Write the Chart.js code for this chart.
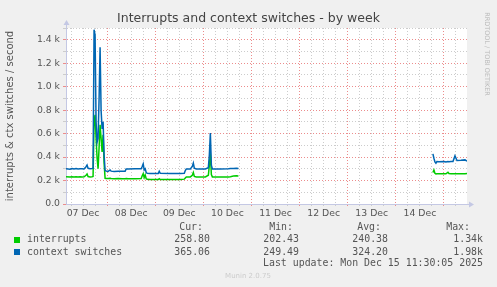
<!DOCTYPE html>
<html><head><meta charset="utf-8">
<script src="https://cdn.jsdelivr.net/npm/chart.js@4/dist/chart.umd.min.js"></script>
<style>
html,body{margin:0;padding:0;background:#F0F0F0;}
#wrap{position:relative;width:497px;height:287px;overflow:hidden;background:#F0F0F0;font-family:"DejaVu Sans",sans-serif;}
#c{position:absolute;left:0;top:0;}
.t{position:absolute;white-space:pre;line-height:12px;}
.mono{font-family:"DejaVu Sans Mono",monospace;font-size:9.9px;color:#555;}
.sq{position:absolute;width:6px;height:6px;}
</style></head><body>
<div id="wrap">
<canvas id="c" width="497" height="287"></canvas>
<div class="t" style="left:0;width:497px;text-align:center;top:12px;font-size:12.5px;color:#444">Interrupts and context switches - by week</div>
<div class="t" style="left:437px;top:50px;width:100px;height:8px;line-height:8px;text-align:center;font-size:6.5px;color:#bbb;transform:rotate(90deg);">RRDTOOL / TOBI OETIKER</div>

<div class="t mono" style="right:294px;top:221px">Cur:</div>
<div class="t mono" style="right:204px;top:221px">Min:</div>
<div class="t mono" style="right:116px;top:221px">Avg:</div>
<div class="t mono" style="right:27px;top:221px">Max:</div>

<div class="sq" style="left:14px;top:237px;background:#00CC00"></div>
<div class="t mono" style="left:27px;top:233px">interrupts</div>
<div class="t mono" style="right:287px;top:233px">258.80</div>
<div class="t mono" style="right:198px;top:233px">202.43</div>
<div class="t mono" style="right:109px;top:233px">240.38</div>
<div class="t mono" style="right:14px;top:233px">1.34k</div>

<div class="sq" style="left:14px;top:249px;background:#0066B3"></div>
<div class="t mono" style="left:27px;top:246px">context switches</div>
<div class="t mono" style="right:287px;top:246px">365.06</div>
<div class="t mono" style="right:198px;top:246px">249.49</div>
<div class="t mono" style="right:109px;top:246px">324.20</div>
<div class="t mono" style="right:14px;top:246px">1.98k</div>

<div class="t mono" style="right:14px;top:257px">Last update: Mon Dec 15 11:30:05 2025</div>
<div class="t" style="left:198px;width:100px;text-align:center;top:272px;line-height:8px;font-size:7px;color:#ccc">Munin 2.0.75</div>
</div>
<script>
// hours since 07 Dec 00:00
const hours = [3.5,5.5,6.5,7.5,8.5,9.5,10.5,11.5,12.5,13.5,14,14.5,15.5,16.5,17,17.5,18,18.5,19,19.5,20,20.5,21,21.5,22,22.5,23,23.5,24.5,25.5,26,27.5,29.5,31.5,33,33.5,34.5,38,41,41.5,42,42.5,43,43.5,44,45.5,49.5,50,50.5,55.5,60.5,62.5,63,63.5,65.5,66.5,67,67.5,68.5,73,74.5,75,75.5,76,76.5,80.5,84.5,85.5,87,88.5,89.5,90,186.5,187,187.5,188,188.5,189.5,192,193,194,194.5,195.5,196.5,197.5,198.5,200.5,202.5,203.5];
const interrupts = [232,230,233,231,232,230,233,231,232,245,256,234,231,233,235,700,760,560,393,300,480,675,560,444,590,350,219,218,217,219,217,216,217,216,216,217,216,216,218,240,258,225,248,215,210,208,208,215,208,208,208,212,222,231,231,245,268,235,231,231,245,330,433,250,231,231,231,233,238,240,239,null,268,290,262,256,258,257,258,258,271,260,257,258,258,257,258,258,259];
const ctxSwitches = [300,297,303,299,302,298,301,300,299,318,332,304,300,302,305,1485,1440,700,525,560,900,1335,800,640,700,420,285,282,278,290,280,278,280,279,280,298,299,300,300,320,342,290,300,268,262,260,260,279,261,259,260,262,285,299,299,320,348,305,299,299,310,420,604,330,299,299,300,303,302,304,303,null,427,390,359,348,362,360,363,358,362,360,362,362,410,370,372,376,365];
const dayLabels = ['07 Dec','08 Dec','09 Dec','10 Dec','11 Dec','12 Dec','13 Dec','14 Dec'];
const yTickLabels = ['0.0','0.2 k','0.4 k','0.6 k','0.8 k','1.0 k','1.2 k','1.4 k'];

const MAJOR = '#EC8C8C';
const MINOR = '#CCCCCC';
const AXIS = '#C4C8E4';
const xTicks = []; for (let h = 6; h <= 198; h += 6) xTicks.push(h);
const yTicks = []; for (let v = 100; v <= 1500; v += 100) yTicks.push(v);

const bgPlugin = {
  id: 'bg',
  beforeDraw(chart) {
    const {ctx, chartArea: a} = chart;
    ctx.save();
    ctx.fillStyle = '#F0F0F0';
    ctx.fillRect(0, 0, chart.width, chart.height);
    ctx.fillStyle = '#FFFFFF';
    ctx.fillRect(a.left, a.top, a.right - a.left, a.bottom - a.top);
    ctx.restore();
  }
};
const arrowPlugin = {
  id: 'arrows',
  afterDraw(chart) {
    const {ctx, chartArea: a} = chart;
    const x0 = Math.round(a.left) + 0.5, y0 = Math.round(a.bottom) + 0.5;
    ctx.save();
    ctx.strokeStyle = AXIS; ctx.fillStyle = AXIS; ctx.lineWidth = 1;
    ctx.beginPath(); ctx.moveTo(x0, a.top); ctx.lineTo(x0, a.top - 4); ctx.stroke();
    ctx.beginPath(); ctx.moveTo(x0 - 3, a.top - 3); ctx.lineTo(x0 + 3, a.top - 3); ctx.lineTo(x0, a.top - 8); ctx.closePath(); ctx.fill();
    ctx.beginPath(); ctx.moveTo(a.right, y0); ctx.lineTo(a.right + 3, y0); ctx.stroke();
    ctx.beginPath(); ctx.moveTo(a.right + 2, y0 - 3); ctx.lineTo(a.right + 2, y0 + 3); ctx.lineTo(a.right + 7, y0); ctx.closePath(); ctx.fill();
    ctx.restore();
  }
};

new Chart(document.getElementById('c'), {
  type: 'line',
  data: {
    datasets: [
      {label: 'context switches', data: hours.map((h, i) => ({x: h, y: ctxSwitches[i]})),
       borderColor: '#0066B3', borderWidth: 1.5, pointRadius: 0, tension: 0, spanGaps: false, order: 0},
      {label: 'interrupts', data: hours.map((h, i) => ({x: h, y: interrupts[i]})),
       borderColor: '#00CC00', borderWidth: 1.5, pointRadius: 0, tension: 0, spanGaps: false, order: 1}
    ]
  },
  options: {
    responsive: false, animation: false, devicePixelRatio: 1,
    layout: {padding: {left: 0, right: 30, top: 28, bottom: 63}},
    plugins: {legend: {display: false}, tooltip: {enabled: false}, title: {display: false}},
    scales: {
      x: {
        type: 'linear', min: 3.5, max: 203.5,
        afterBuildTicks: s => { s.ticks = xTicks.map(v => ({value: v})); },
        afterFit: s => { s.height = 20; },
        grid: {color: c => (c.tick && c.tick.value % 24 === 0) ? MAJOR : MINOR,
               tickColor: c => (c.tick && c.tick.value % 24 === 0) ? MAJOR : MINOR,
               tickLength: 2, drawTicks: true, lineWidth: 1},
        border: {display: true, color: AXIS, dash: [1, 2]},
        ticks: {autoSkip: false, maxRotation: 0, minRotation: 0, padding: 2, color: '#555',
                font: {family: 'DejaVu Sans', size: 9.3},
                callback: v => (v % 24 === 12) ? dayLabels[(v - 12) / 24] : ''}
      },
      y: {
        type: 'linear', min: 0, max: 1500,
        afterBuildTicks: s => { s.ticks = [0].concat(yTicks).map(v => ({value: v})); },
        afterFit: s => { s.width = 66; },
        grid: {color: c => (c.tick && c.tick.value === 0) ? 'rgba(0,0,0,0)' : ((c.tick && c.tick.value % 200 === 0) ? MAJOR : MINOR),
               tickColor: c => (c.tick && c.tick.value % 200 === 0) ? MAJOR : MINOR,
               tickLength: 3, drawTicks: true, lineWidth: 1},
        border: {display: true, color: AXIS, dash: [1, 2]},
        ticks: {autoSkip: false, padding: 3, color: '#555',
                font: {family: 'DejaVu Sans', size: 9.3},
                callback: v => (v % 200 === 0) ? yTickLabels[v / 200] : ''},
        title: {display: true, text: 'interrupts & ctx switches / second', color: '#555',
                font: {family: 'DejaVu Sans', size: 10}, padding: {top: 4, bottom: 0}}
      }
    }
  },
  plugins: [bgPlugin, arrowPlugin]
});
</script>
</body></html>
